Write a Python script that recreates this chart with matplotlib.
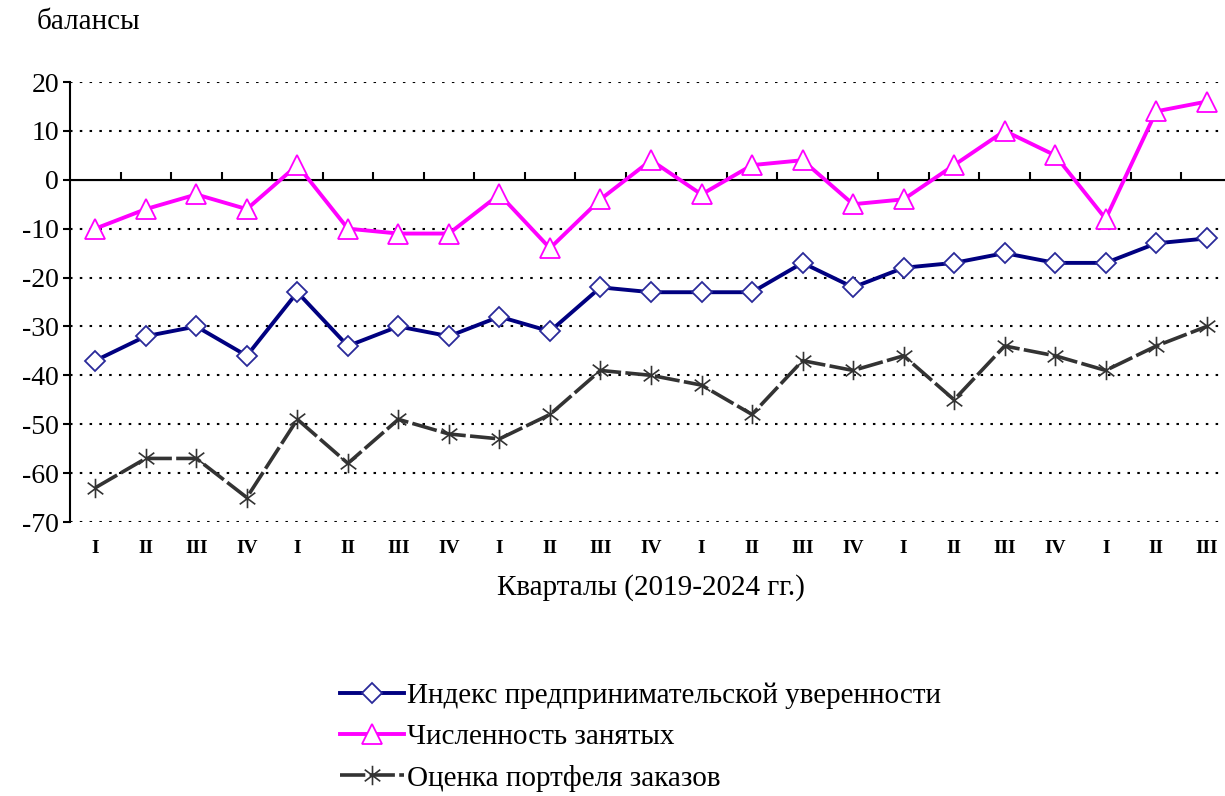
import numpy as np
import matplotlib
matplotlib.use("Agg")
from matplotlib import pyplot as plt
from matplotlib.path import Path

plt.rcParams["font.family"] = ["Liberation Serif", "DejaVu Serif"]
plt.rcParams["axes.unicode_minus"] = False

quarters = ["I", "II", "III", "IV"] * 5 + ["I", "II", "III"]
confidence = [-37, -32, -30, -36, -23, -34, -30, -32, -28, -31, -22, -23,
              -23, -23, -17, -22, -18, -17, -15, -17, -17, -13, -12]
employment = [-10, -6, -3, -6, 3, -10, -11, -11, -3, -14, -4, 4,
              -3, 3, 4, -5, -4, 3, 10, 5, -8, 14, 16]
orders = [-63, -57, -57, -65, -49, -58, -49, -52, -53, -48, -39, -40,
          -42, -48, -37, -39, -36, -45, -34, -36, -39, -34, -30]

labels = ["Индекс предпринимательской уверенности",
          "Численность занятых",
          "Оценка портфеля заказов"]

# excel-like asterisk marker: vertical bar + X
star = Path([(0, -1), (0, 1), (-0.8, -0.6), (0.8, 0.6), (-0.8, 0.6), (0.8, -0.6)],
            [Path.MOVETO, Path.LINETO] * 3)

fig = plt.figure(figsize=(12.25, 7.96), dpi=100)
ax = fig.add_axes([70 / 1225, 1 - 522 / 796, 1162 / 1225, 440 / 796])

x = np.arange(len(quarters))
l1, = ax.plot(x, confidence, color="#000080", lw=2.8, marker="D", ms=10,
              mfc="white", mec="#2a2a9a", mew=1.3, label=labels[0], zorder=4)
l2, = ax.plot(x, employment, color="#ff00ff", lw=2.8, marker="^", ms=15,
              mfc="white", mec="#ff00ff", mew=1.3, label=labels[1], zorder=4)
l3, = ax.plot(x, orders, color="#333333", lw=2.6, dashes=(7, 1.2), marker=star,
              ms=14, mec="#333333", mew=1.2, label=labels[2], zorder=4)

ax.set_xlim(-0.5, len(quarters) - 0.5)
ax.set_ylim(-70, 20)
ax.set_yticks(np.arange(-70, 21, 10))
for v in np.arange(-70, 21, 10):
    if v != 0:
        ax.axhline(v, color="black", lw=1.5, ls=(0, (1.2, 3.5)), zorder=1)
ax.axhline(0, color="black", lw=1.5, zorder=2)

for s in ["top", "right", "bottom"]:
    ax.spines[s].set_visible(False)
ax.spines["left"].set_linewidth(1.5)
ax.tick_params(axis="y", length=5, width=1.5, labelsize=20, pad=3)

ax.set_xticks(x, quarters, fontweight="bold")
ax.tick_params(axis="x", length=0, labelsize=14, pad=13)

# tick marks between categories on the zero line
zero = ax.secondary_xaxis(70 / 90)
zero.set_xticks(np.arange(0.5, len(quarters) - 0.5, 1), [""] * (len(quarters) - 1))
zero.spines["bottom"].set_visible(False)
zero.tick_params(axis="x", direction="out", length=6, width=1.5, labelsize=1)

ax.set_xlabel("Кварталы (2019-2024 гг.)", fontsize=21, labelpad=12)
fig.text(37 / 1225, 1 - 22 / 796, "балансы", fontsize=21, va="center")

fig.legend(handles=[l1, l2, l3], loc="upper left",
           bbox_to_anchor=(325 / 1225, 1 - 668 / 796), frameon=False, borderpad=0,
           fontsize=21, handlelength=2.2, handletextpad=0.1, labelspacing=0.5)

fig.savefig("out.png", dpi=100)
